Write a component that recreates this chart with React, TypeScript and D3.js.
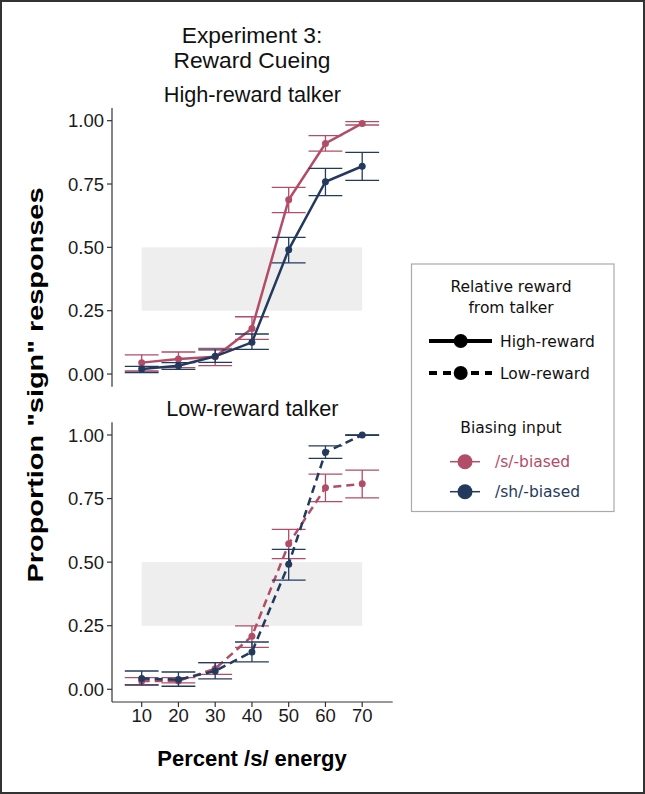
import React, { useEffect, useRef } from "react";
import * as d3 from "d3";

const percent = [10, 20, 30, 40, 50, 60, 70];

// High-reward talker
const highS = [0.045, 0.059, 0.068, 0.18, 0.688, 0.91, 0.989];
const highSLo = [0.012, 0.025, 0.033, 0.137, 0.637, 0.88, 0.983];
const highSHi = [0.076, 0.087, 0.101, 0.226, 0.737, 0.941, 0.996];
const highSh = [0.02, 0.033, 0.07, 0.125, 0.491, 0.759, 0.82];
const highShLo = [0.006, 0.018, 0.046, 0.097, 0.439, 0.704, 0.764];
const highShHi = [0.03, 0.045, 0.095, 0.158, 0.539, 0.812, 0.875];

// Low-reward talker
const lowS = [0.033, 0.033, 0.081, 0.209, 0.572, 0.793, 0.808];
const lowSLo = [0.018, 0.025, 0.059, 0.165, 0.514, 0.738, 0.753];
const lowSHi = [0.046, 0.046, 0.105, 0.249, 0.629, 0.846, 0.862];
const lowSh = [0.042, 0.038, 0.072, 0.147, 0.492, 0.932, 1.0];
const lowShLo = [0.016, 0.012, 0.041, 0.108, 0.429, 0.908, 0.999];
const lowShHi = [0.072, 0.068, 0.105, 0.186, 0.55, 0.957, 1.0];

const yTicks = [0, 0.25, 0.5, 0.75, 1];

const RED = "#B24C67";
const BLUE = "#233A5E";
const SANS = "'Liberation Sans', Arial, sans-serif";
const LEG = "'DejaVu Sans', sans-serif";

type Series = { color: string; mean: number[]; lo: number[]; hi: number[] };

export default function App() {
  const ref = useRef<SVGSVGElement | null>(null);

  useEffect(() => {
    if (!ref.current) return;
    const svg = d3.select(ref.current);
    svg.selectAll("*").remove();

    const W = 645;
    const H = 794;

    svg
      .append("rect")
      .attr("x", 1)
      .attr("y", 1)
      .attr("width", W - 2)
      .attr("height", H - 2)
      .attr("fill", "#fff")
      .attr("stroke", "#333")
      .attr("stroke-width", 2);

    const x = d3.scaleLinear().domain([1.92, 78.3]).range([112, 392.7]);

    const panel = (
      top: number,
      bottom: number,
      title: string,
      titleY: number,
      dash: string | null,
      series: Series[],
      showX: boolean
    ) => {
      const y = d3.scaleLinear().domain([-0.05, 1.05]).range([bottom, top]);
      const g = svg.append("g");

      // grey reference band
      g.append("rect")
        .attr("x", x(10))
        .attr("y", y(0.5))
        .attr("width", x(70) - x(10))
        .attr("height", y(0.25) - y(0.5))
        .attr("fill", "#EEEEEE");

      g.append("text")
        .attr("x", (x.range()[0] + x.range()[1]) / 2)
        .attr("y", titleY)
        .attr("text-anchor", "middle")
        .attr("font-family", SANS)
        .attr("font-size", 21.7)
        .attr("fill", "#111")
        .text(title);

      // y axis
      g.append("line")
        .attr("x1", x.range()[0])
        .attr("x2", x.range()[0])
        .attr("y1", top)
        .attr("y2", bottom)
        .attr("stroke", "#333")
        .attr("stroke-width", 1.2);
      yTicks.forEach((t) => {
        g.append("line")
          .attr("x1", x.range()[0] - 5)
          .attr("x2", x.range()[0])
          .attr("y1", y(t))
          .attr("y2", y(t))
          .attr("stroke", "#333")
          .attr("stroke-width", 1.2);
        g.append("text")
          .attr("x", x.range()[0] - 8)
          .attr("y", y(t))
          .attr("dy", "0.36em")
          .attr("text-anchor", "end")
          .attr("font-family", SANS)
          .attr("font-size", 18.5)
          .attr("fill", "#1a1a1a")
          .text(d3.format(".2f")(t));
      });

      if (showX) {
        g.append("line")
          .attr("x1", x.range()[0])
          .attr("x2", x.range()[1])
          .attr("y1", bottom)
          .attr("y2", bottom)
          .attr("stroke", "#333")
          .attr("stroke-width", 1.2);
        percent.forEach((p) => {
          g.append("line")
            .attr("x1", x(p))
            .attr("x2", x(p))
            .attr("y1", bottom)
            .attr("y2", bottom + 5)
            .attr("stroke", "#333")
            .attr("stroke-width", 1.2);
          g.append("text")
            .attr("x", x(p))
            .attr("y", bottom + 20)
            .attr("text-anchor", "middle")
            .attr("font-family", SANS)
            .attr("font-size", 18.5)
            .attr("fill", "#1a1a1a")
            .text(p);
        });
      }

      const line = d3
        .line<number>()
        .x((_, i) => x(percent[i]))
        .y((d) => y(d));

      series.forEach((s) => {
        const path = g
          .append("path")
          .attr("d", line(s.mean))
          .attr("fill", "none")
          .attr("stroke", s.color)
          .attr("stroke-width", 2.5);
        if (dash) path.attr("stroke-dasharray", dash);

        g.selectAll(null)
          .data(s.mean)
          .join("circle")
          .attr("cx", (_, i) => x(percent[i]))
          .attr("cy", (d) => y(d))
          .attr("r", 3.5)
          .attr("fill", s.color);

        const eb = g.append("g").attr("stroke", s.color).attr("stroke-width", 1.3).attr("fill", "none");
        percent.forEach((p, i) => {
          const x0 = x(p - 4.6);
          const x1 = x(p + 4.6);
          eb.append("line").attr("x1", x0).attr("x2", x1).attr("y1", y(s.lo[i])).attr("y2", y(s.lo[i]));
          eb.append("line").attr("x1", x0).attr("x2", x1).attr("y1", y(s.hi[i])).attr("y2", y(s.hi[i]));
          eb.append("line").attr("x1", x(p)).attr("x2", x(p)).attr("y1", y(s.lo[i])).attr("y2", y(s.hi[i]));
        });
      });
    };

    // overall title
    [
      ["Experiment 3:", 43],
      ["Reward Cueing", 68],
    ].forEach(([t, yy]) =>
      svg
        .append("text")
        .attr("x", 252)
        .attr("y", yy as number)
        .attr("text-anchor", "middle")
        .attr("font-family", SANS)
        .attr("font-size", 22.8)
        .attr("fill", "#111")
        .text(t as string)
    );

    panel(108, 386.7, "High-reward talker", 101.5, null, [
      { color: RED, mean: highS, lo: highSLo, hi: highSHi },
      { color: BLUE, mean: highSh, lo: highShLo, hi: highShHi },
    ], false);
    panel(422.3, 702, "Low-reward talker", 416, "8,5", [
      { color: RED, mean: lowS, lo: lowSLo, hi: lowSHi },
      { color: BLUE, mean: lowSh, lo: lowShLo, hi: lowShHi },
    ], true);

    // axis titles
    svg
      .append("text")
      .attr("x", 252)
      .attr("y", 766)
      .attr("text-anchor", "middle")
      .attr("font-family", SANS)
      .attr("font-weight", "bold")
      .attr("font-size", 22)
      .attr("fill", "#000")
      .text("Percent /s/ energy");
    svg
      .append("text")
      .attr("transform", "translate(43,385) rotate(-90)")
      .attr("text-anchor", "middle")
      .attr("font-family", SANS)
      .attr("font-weight", "bold")
      .attr("font-size", 22.5)
      .attr("textLength", 395)
      .attr("lengthAdjust", "spacingAndGlyphs")
      .attr("fill", "#000")
      .text('Proportion "sign" responses');

    // legend
    const lg = svg.append("g");
    lg.append("rect")
      .attr("x", 411.5)
      .attr("y", 264)
      .attr("width", 202.5)
      .attr("height", 247.5)
      .attr("fill", "#fff")
      .attr("stroke", "#aaa")
      .attr("stroke-width", 1.2);
    const legText = (t: string, xx: number, yy: number, anchor: string, color = "#111") =>
      lg
        .append("text")
        .attr("x", xx)
        .attr("y", yy)
        .attr("text-anchor", anchor)
        .attr("font-family", LEG)
        .attr("font-size", 15.5)
        .attr("fill", color)
        .text(t);
    legText("Relative reward", 511, 291.5, "middle");
    legText("from talker", 511, 313, "middle");
    legText("Biasing input", 511, 433, "middle");

    const rewardKeys = [
      { label: "High-reward", dash: null as string | null, y: 341 },
      { label: "Low-reward", dash: "8,6", y: 373 },
    ];
    rewardKeys.forEach((k) => {
      const l = lg
        .append("line")
        .attr("x1", 429)
        .attr("x2", 492)
        .attr("y1", k.y)
        .attr("y2", k.y)
        .attr("stroke", "#000")
        .attr("stroke-width", 4);
      if (k.dash) l.attr("stroke-dasharray", k.dash);
      lg.append("circle").attr("cx", 460.7).attr("cy", k.y).attr("r", 7).attr("fill", "#000");
      legText(k.label, 500, k.y + 5.5, "start");
    });

    const biasKeys = [
      { label: "/s/-biased", color: RED, y: 461.7 },
      { label: "/sh/-biased", color: BLUE, y: 491.7 },
    ];
    biasKeys.forEach((k) => {
      lg.append("line")
        .attr("x1", 450)
        .attr("x2", 480)
        .attr("y1", k.y)
        .attr("y2", k.y)
        .attr("stroke", k.color)
        .attr("stroke-width", 1.5);
      lg.append("circle").attr("cx", 465).attr("cy", k.y).attr("r", 7.5).attr("fill", k.color);
      legText(k.label, 495, k.y + 5, "start", k.color);
    });
  }, []);

  return (
    <svg
      ref={ref}
      width={645}
      height={794}
      style={{ position: "absolute", left: 0, top: 0, display: "block" }}
    />
  );
}
